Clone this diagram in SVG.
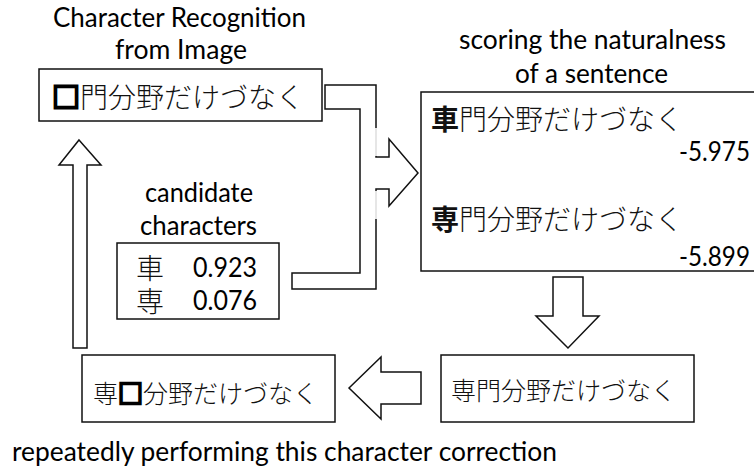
<svg xmlns="http://www.w3.org/2000/svg" width="754" height="470" viewBox="0 0 754 470">
  <style>
    .box { fill: #fff; stroke: #111; stroke-width: 1.5; }
    .arrow { fill: #fff; stroke: #111; stroke-width: 1.5; stroke-linejoin: miter; }
    .lbl { font-family: Lato, "Liberation Sans", sans-serif; font-size: 26px; fill: #000; }
    .jp { font-family: "Noto Sans CJK JP", "Noto Sans", sans-serif; font-weight: 300; fill: #111; }
    .mark { stroke: #000; stroke-width: 2.4; font-weight: bold; }
    .strong { font-weight: bold; }
    .fade { stroke: #e6e6e6; stroke-width: 2; }
  </style>
  <rect width="754" height="470" fill="#fff"/>

  <!-- headings -->
  <text class="lbl" x="53" y="27" textLength="253" lengthAdjust="spacingAndGlyphs">Character Recognition</text>
  <text class="lbl" x="115" y="59" textLength="132" lengthAdjust="spacingAndGlyphs">from Image</text>
  <text class="lbl" x="459" y="49" textLength="267" lengthAdjust="spacingAndGlyphs">scoring the naturalness</text>
  <text class="lbl" x="515" y="83" textLength="153" lengthAdjust="spacingAndGlyphs">of a sentence</text>
  <text class="lbl" x="145" y="202" textLength="108" lengthAdjust="spacingAndGlyphs">candidate</text>
  <text class="lbl" x="140" y="235" textLength="117" lengthAdjust="spacingAndGlyphs">characters</text>
  <text class="lbl" x="12" y="461" textLength="545" lengthAdjust="spacingAndGlyphs">repeatedly performing this character correction</text>

  <!-- connectors -->
  <g id="connectors">
    <!-- two inputs merging into one block arrow -->
    <path class="arrow" d="M325,85 L376,85 L376,157 L389,157 L389,139 L418,173 L389,206 L389,189 L376,189 L376,289 L292,289 L292,273 L360,273 L360,109 L325,109 Z"/>
    <line class="fade" x1="376" y1="128" x2="376" y2="156"/>
    <line class="fade" x1="376" y1="191" x2="376" y2="219"/>
    <!-- scores to result -->
    <path class="arrow" d="M553,277 L583,277 L583,316 L599,316 L568,348 L536,316 L553,316 Z"/>
    <!-- result to next masked sentence -->
    <path class="arrow" d="M349,388 L381,357 L381,372 L421,372 L421,404 L381,404 L381,419 Z"/>
    <!-- loop back to recognition -->
    <path class="arrow" d="M79,140 L101,165 L87,165 L87,348 L73,348 L73,165 L59,165 Z"/>
  </g>

  <!-- recognised sentence with unknown character -->
  <g id="recognized">
    <rect class="box" x="39" y="69" width="283" height="52"/>
    <text class="jp" x="52" y="108" font-size="28"><tspan class="mark">□</tspan>門分野だけづなく</text>
  </g>

  <!-- candidate list -->
  <g id="candidates">
    <rect class="box" x="117" y="243" width="162" height="76"/>
    <text class="jp" font-size="28"><tspan x="136" y="279">車</tspan><tspan x="136" y="312">専</tspan></text>
    <text class="lbl"><tspan x="193" y="277" textLength="64" lengthAdjust="spacingAndGlyphs">0.923</tspan><tspan x="193" y="310" textLength="64" lengthAdjust="spacingAndGlyphs">0.076</tspan></text>
  </g>

  <!-- language model scores -->
  <g id="scoring">
    <rect class="box" x="421" y="92" width="340" height="179"/>
    <text class="jp" x="431" y="130" font-size="28"><tspan class="strong">車</tspan>門分野だけづなく</text>
    <text class="lbl" x="679" y="161" textLength="71" lengthAdjust="spacingAndGlyphs">-5.975</text>
    <text class="jp" x="431" y="230" font-size="28"><tspan class="strong">専</tspan>門分野だけづなく</text>
    <text class="lbl" x="679" y="266" textLength="71" lengthAdjust="spacingAndGlyphs">-5.899</text>
  </g>

  <!-- corrected sentence -->
  <g id="corrected">
    <rect class="box" x="441" y="355" width="253" height="67"/>
    <text class="jp" x="451" y="400" font-size="25">専門分野だけづなく</text>
  </g>

  <!-- next sentence to correct -->
  <g id="next">
    <rect class="box" x="82" y="355" width="253" height="67"/>
    <text class="jp" x="93" y="403" font-size="25">専<tspan class="mark">□</tspan>分野だけづなく</text>
  </g>
</svg>
